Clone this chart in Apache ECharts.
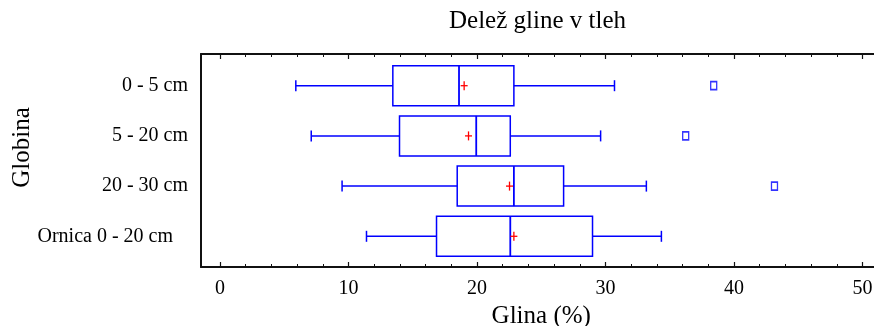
<!DOCTYPE html>
<html>
<head>
<meta charset="utf-8">
<script src="https://cdn.jsdelivr.net/npm/echarts@6/dist/echarts.min.js"></script>
<style>html,body{margin:0;padding:0;background:#fff;}#c{width:874px;height:326px;}</style>
</head>
<body>
<div id="c"></div>
<script>
var categories = ['0 - 5 cm', '5 - 20 cm', '20 - 30 cm', 'Ornica 0 - 20 cm'];
var whiskerLow = [5.9, 7.1, 9.5, 11.4];
var q1 = [13.45, 13.97, 18.46, 16.85];
var median = [18.6, 19.94, 22.87, 22.59];
var q3 = [22.87, 22.59, 26.74, 28.99];
var whiskerHigh = [30.7, 29.62, 33.18, 34.35];
var means = [19.0, 19.34, 22.53, 22.87];
var outlierValues = [38.42, 36.24, 43.15];
var outlierCats = [0, 1, 2];
var xTicks = [0, 10, 20, 30, 40, 50];

var FONT = '"Liberation Serif", "Times New Roman", serif';
var BLUE = '#0000ff', RED = '#ff0000';

var boxData = categories.map(function (c, i) {
  return [i, whiskerLow[i], q1[i], median[i], q3[i], whiskerHigh[i], means[i]];
});
var outlierData = outlierValues.map(function (v, i) { return [v, outlierCats[i]]; });

function renderBox(params, api) {
  var cat = api.value(0);
  var lo = api.coord([api.value(1), cat]);
  var b1 = api.coord([api.value(2), cat]);
  var md = api.coord([api.value(3), cat]);
  var b3 = api.coord([api.value(4), cat]);
  var hi = api.coord([api.value(5), cat]);
  var mn = api.coord([api.value(6), cat]);
  var y = lo[1];
  var bh = 20, cap = 5.5;
  var ls = { stroke: BLUE, lineWidth: 1.5, fill: null };
  var rs = { stroke: RED, lineWidth: 1.3, fill: null };
  return {
    type: 'group',
    children: [
      { type: 'line', shape: { x1: lo[0], y1: y, x2: b1[0], y2: y }, style: ls },
      { type: 'line', shape: { x1: lo[0], y1: y - cap, x2: lo[0], y2: y + cap }, style: ls },
      { type: 'line', shape: { x1: b3[0], y1: y, x2: hi[0], y2: y }, style: ls },
      { type: 'line', shape: { x1: hi[0], y1: y - cap, x2: hi[0], y2: y + cap }, style: ls },
      { type: 'rect', shape: { x: b1[0], y: y - bh, width: b3[0] - b1[0], height: 2 * bh }, style: { stroke: BLUE, lineWidth: 1.5, fill: 'rgba(0,0,0,0)' } },
      { type: 'line', shape: { x1: md[0], y1: y - bh, x2: md[0], y2: y + bh }, style: { stroke: BLUE, lineWidth: 1.8 } },
      { type: 'line', shape: { x1: mn[0] - 3.5, y1: y, x2: mn[0] + 3.5, y2: y }, style: rs },
      { type: 'line', shape: { x1: mn[0], y1: y - 4.5, x2: mn[0], y2: y + 4.5 }, style: rs }
    ]
  };
}

var frameLine = { show: true, lineStyle: { color: '#111', width: 2 } };

var chart = echarts.init(document.getElementById('c'), null, { renderer: 'canvas' });
chart.setOption({
  animation: false,
  backgroundColor: '#fff',
  title: {
    text: 'Delež gline v tleh',
    left: 449, top: 9, padding: 0,
    textStyle: { fontFamily: FONT, fontSize: 25, fontWeight: 'normal', color: '#000' }
  },
  graphic: [{
    type: 'text', x: 22, y: 147.5, rotation: Math.PI / 2,
    style: { text: 'Globina', fontFamily: FONT, fontSize: 25, fill: '#000', align: 'center', verticalAlign: 'middle' }
  }],
  grid: [
    { left: 201, top: 54, right: 0, height: 213, outerBoundsMode: 'none', containLabel: false },
    { left: 220, top: 54, width: 642.5, height: 213, outerBoundsMode: 'none', containLabel: false },
    { left: 220, top: 60.6, width: 642.5, height: 200.8, outerBoundsMode: 'none', containLabel: false }
  ],
  xAxis: [
    { gridIndex: 0, type: 'value', position: 'bottom', min: 0, max: 1, axisLine: frameLine, axisTick: { show: false }, axisLabel: { show: false }, splitLine: { show: false } },
    {
      gridIndex: 1, type: 'value', position: 'bottom', min: 0, max: 50, interval: 10,
      axisLine: { show: false }, splitLine: { show: false },
      axisTick: { show: true, inside: true, length: 5, lineStyle: { color: '#111', width: 1.2 } },
      minorTick: { show: true, splitNumber: 5, length: 3, lineStyle: { color: '#111', width: 1 } },
      axisLabel: { margin: 12, fontFamily: FONT, fontSize: 20, color: '#000',
        formatter: function (v) { return xTicks.indexOf(v) >= 0 ? String(v) : ''; } },
      name: 'Glina (%)', nameLocation: 'middle', nameGap: 35,
      nameTextStyle: { fontFamily: FONT, fontSize: 25, color: '#000' }
    },
    {
      gridIndex: 1, type: 'value', position: 'top', min: 0, max: 50, interval: 10,
      axisLine: { show: false }, splitLine: { show: false },
      axisTick: { show: true, inside: true, length: 5, lineStyle: { color: '#111', width: 1.2 } },
      minorTick: { show: true, splitNumber: 5, length: 3, lineStyle: { color: '#111', width: 1 } },
      axisLabel: { show: false }
    },
    { gridIndex: 2, type: 'value', show: false, min: 0, max: 50 },
    { gridIndex: 0, type: 'value', position: 'top', min: 0, max: 1, axisLine: frameLine, axisTick: { show: false }, axisLabel: { show: false }, splitLine: { show: false } }
  ],
  yAxis: [
    { gridIndex: 0, type: 'value', position: 'left', min: 0, max: 1, axisLine: frameLine, axisTick: { show: false }, axisLabel: { show: false }, splitLine: { show: false } },
    { gridIndex: 1, type: 'value', show: false, min: 0, max: 1 },
    {
      gridIndex: 2, type: 'category', data: categories, inverse: true,
      axisLine: { show: false }, axisTick: { show: false }, splitLine: { show: false },
      axisLabel: {
        margin: 32, fontFamily: FONT, fontSize: 20, color: '#000',
        formatter: function (v) { return v === 'Ornica 0 - 20 cm' ? '{o|' + v + '}' : v; },
        rich: { o: { fontFamily: FONT, fontSize: 20, color: '#000', padding: [0, 15, 0, 0] } }
      }
    }
  ],
  series: [
    {
      type: 'custom', xAxisIndex: 3, yAxisIndex: 2,
      renderItem: renderBox,
      encode: { x: [1, 2, 3, 4, 5, 6], y: 0 },
      data: boxData
    },
    {
      type: 'scatter', xAxisIndex: 3, yAxisIndex: 2,
      symbol: 'rect', symbolSize: [6, 8],
      itemStyle: { color: 'rgba(255,255,255,0)', borderColor: BLUE, borderWidth: 1.5 },
      data: outlierData
    }
  ]
});
</script>
</body>
</html>
